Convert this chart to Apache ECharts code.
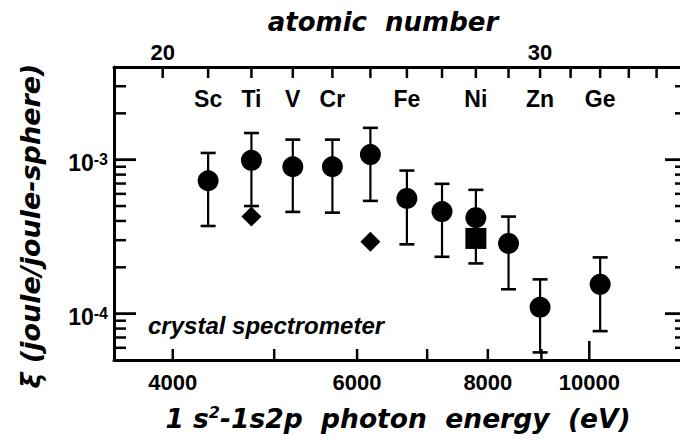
<!DOCTYPE html>
<html><head><meta charset="utf-8">
<script src="https://cdn.jsdelivr.net/npm/echarts@6/dist/echarts.min.js"></script>
<style>html,body{margin:0;padding:0;background:#fff}#chart{width:680px;height:443px}</style>
</head><body><div id="chart"></div>
<script>
// ---- data ----
const elementNames = ['Sc', 'Ti', 'V', 'Cr', 'Fe', 'Ni', 'Zn', 'Ge'];
const elementZ = [21, 22, 23, 24, 26, 28, 30, 32];
const pointZ = [21, 22, 23, 24, 25, 26, 27, 28, 29, 30, 32];
const pointValue = [7.3e-4, 9.9e-4, 9.0e-4, 9.0e-4, 1.08e-3, 5.6e-4, 4.6e-4, 4.2e-4, 2.86e-4, 1.10e-4, 1.55e-4];
const errLow = [3.71e-4, 5.0e-4, 4.58e-4, 4.53e-4, 5.4e-4, 2.82e-4, 2.34e-4, 2.12e-4, 1.44e-4, 5.6e-5, 7.7e-5];
const errHigh = [1.106e-3, 1.49e-3, 1.35e-3, 1.35e-3, 1.61e-3, 8.5e-4, 6.97e-4, 6.37e-4, 4.27e-4, 1.67e-4, 2.32e-4];
const diamondZ = [22, 25];
const diamondValue = [4.27e-4, 2.93e-4];
const squareZ = [28];
const squareValue = [3.08e-4];
const energyTicks = [4000, 5000, 6000, 7000, 8000, 9000, 10000];
const energyLabels = [4000, 6000, 8000, 10000];
const zTicks = [20, 21, 22, 23, 24, 25, 26, 27, 28, 29, 30, 31, 32, 33, 34];
const zLabels = [20, 30];
const yMajorTicks = [1e-4, 1e-3];
const yMajorExp = ['-4', '-3'];
const yMinorTicks = [6e-5, 7e-5, 8e-5, 9e-5, 2e-4, 3e-4, 4e-4, 5e-4, 6e-4, 7e-4, 8e-4, 9e-4, 2e-3, 3e-3];

// ---- axis ranges ----
const E_MIN = 3515, E_MAX = 12398;
const Z_MIN = 18.98, Z_MAX = 35.13;
const Y_MIN = 5e-5, Y_MAX = 4e-3;

const SANS = '"Liberation Sans", Arial, sans-serif';
const TITLE = '"DejaVu Sans", sans-serif';
const BLACK = '#000';

const chart = echarts.init(document.getElementById('chart'), null, {renderer: 'svg'});

function hiddenAxis(extra) {
  return Object.assign({
    type: 'log', logBase: 10,
    axisTick: {show: false}, axisLabel: {show: false}, splitLine: {show: false},
    minorTick: {show: false}, minorSplitLine: {show: false}
  }, extra);
}
const frameLine = {show: true, onZero: false, lineStyle: {color: BLACK, width: 3}};

const isDecade = v => Math.abs(Math.log10(v) - Math.round(Math.log10(v))) < 1e-9;
const markStyle = {color: BLACK, opacity: 1};

const series = [
  // error bars
  {
    type: 'custom', xAxisIndex: 1, yAxisIndex: 0, silent: true, z: 3,
    data: pointZ.map((z, i) => [z, errLow[i], errHigh[i]]),
    encode: {x: 0, y: [1, 2]},
    renderItem(params, api) {
      const lo = api.coord([api.value(0), api.value(1)]);
      const hi = api.coord([api.value(0), api.value(2)]);
      const c = 7.5;
      return {type: 'group', children: [
        {type: 'line', shape: {x1: lo[0], y1: lo[1], x2: hi[0], y2: hi[1]}, style: {stroke: BLACK, lineWidth: 2.2}},
        {type: 'line', shape: {x1: lo[0] - c, y1: lo[1], x2: lo[0] + c, y2: lo[1]}, style: {stroke: BLACK, lineWidth: 2.6}},
        {type: 'line', shape: {x1: hi[0] - c, y1: hi[1], x2: hi[0] + c, y2: hi[1]}, style: {stroke: BLACK, lineWidth: 2.6}}
      ]};
    }
  },
  {
    type: 'scatter', xAxisIndex: 1, yAxisIndex: 0, z: 4, silent: true,
    symbol: 'circle', symbolSize: 21, itemStyle: markStyle,
    data: pointZ.map((z, i) => [z, pointValue[i]])
  },
  {
    type: 'scatter', xAxisIndex: 1, yAxisIndex: 0, z: 4, silent: true,
    symbol: 'diamond', symbolSize: 20, itemStyle: markStyle,
    data: diamondZ.map((z, i) => [z, diamondValue[i]])
  },
  {
    type: 'scatter', xAxisIndex: 1, yAxisIndex: 0, z: 4, silent: true,
    symbol: 'rect', symbolSize: 21, itemStyle: markStyle,
    data: squareZ.map((z, i) => [z, squareValue[i]])
  },
  // element labels
  {
    type: 'custom', xAxisIndex: 1, yAxisIndex: 0, silent: true, z: 5,
    data: elementZ.map(z => [z, Y_MIN]),
    encode: {x: 0, y: 1},
    renderItem(params, api) {
      const x = api.coord([api.value(0), Y_MIN])[0];
      return {type: 'text', x: x, y: params.coordSys.y + 32,
        style: {text: elementNames[params.dataIndex], font: 'bold 23px ' + SANS, fill: BLACK, align: 'center', verticalAlign: 'middle'}};
    }
  },
  // bottom energy ticks + labels
  {
    type: 'custom', xAxisIndex: 0, yAxisIndex: 0, silent: true, z: 5,
    data: energyTicks.map(v => [v, Y_MIN]),
    encode: {x: 0, y: 1},
    renderItem(params, api) {
      const cs = params.coordSys;
      const v = api.value(0);
      const x = api.coord([v, Y_MIN])[0];
      const b = cs.y + cs.height;
      const len = isDecade(v) ? 19 : 11;
      const ch = [{type: 'line', shape: {x1: x, y1: b, x2: x, y2: b - len}, style: {stroke: BLACK, lineWidth: 2.5}}];
      if (energyLabels.indexOf(v) >= 0) {
        ch.push({type: 'text', x: x, y: b + 22,
          style: {text: String(v), font: 'bold 22px ' + SANS, fill: BLACK, align: 'center', verticalAlign: 'middle'}});
      }
      return {type: 'group', children: ch};
    }
  },
  // top Z ticks + labels
  {
    type: 'custom', xAxisIndex: 1, yAxisIndex: 0, silent: true, z: 5,
    data: zTicks.map(v => [v, Y_MIN]),
    encode: {x: 0, y: 1},
    renderItem(params, api) {
      const cs = params.coordSys;
      const v = api.value(0);
      const x = api.coord([v, Y_MIN])[0];
      const t = cs.y;
      const ch = [{type: 'line', shape: {x1: x, y1: t, x2: x, y2: t + 11}, style: {stroke: BLACK, lineWidth: 2.5}}];
      if (zLabels.indexOf(v) >= 0) {
        ch.push({type: 'text', x: x, y: t - 15,
          style: {text: String(v), font: 'bold 22px ' + SANS, fill: BLACK, align: 'center', verticalAlign: 'middle'}});
      }
      return {type: 'group', children: ch};
    }
  },
  // y major ticks (both sides) + labels
  {
    type: 'custom', xAxisIndex: 0, yAxisIndex: 0, silent: true, z: 5,
    data: yMajorTicks.map(v => [E_MIN, v]),
    encode: {x: 0, y: 1},
    renderItem(params, api) {
      const cs = params.coordSys;
      const y = api.coord([E_MIN, api.value(1)])[1];
      const l = cs.x, r = cs.x + cs.width;
      return {type: 'group', children: [
        {type: 'line', shape: {x1: l, y1: y, x2: l + 22, y2: y}, style: {stroke: BLACK, lineWidth: 2.8}},
        {type: 'line', shape: {x1: r, y1: y, x2: r - 22, y2: y}, style: {stroke: BLACK, lineWidth: 2.8}},
        {type: 'text', x: l - 6, y: y + 3, style: {
          text: '10{sup|' + yMajorExp[params.dataIndex] + '}',
          font: 'bold 23px ' + SANS, fill: BLACK, align: 'right', verticalAlign: 'middle',
          rich: {sup: {fontSize: 16, fontWeight: 'bold', fontFamily: SANS, verticalAlign: 'top', fill: BLACK}}
        }}
      ]};
    }
  },
  // y minor ticks (both sides)
  {
    type: 'custom', xAxisIndex: 0, yAxisIndex: 0, silent: true, z: 5,
    data: yMinorTicks.map(v => [E_MIN, v]),
    encode: {x: 0, y: 1},
    renderItem(params, api) {
      const cs = params.coordSys;
      const y = api.coord([E_MIN, api.value(1)])[1];
      const l = cs.x, r = cs.x + cs.width;
      return {type: 'group', children: [
        {type: 'line', shape: {x1: l, y1: y, x2: l + 12, y2: y}, style: {stroke: BLACK, lineWidth: 2.5}},
        {type: 'line', shape: {x1: r, y1: y, x2: r - 12, y2: y}, style: {stroke: BLACK, lineWidth: 2.5}}
      ]};
    }
  }
];

chart.setOption({
  animation: false,
  backgroundColor: '#fff',
  textStyle: {fontFamily: SANS},
  grid: {left: 114, top: 67, width: 573, height: 293, outerBoundsMode: 'none', containLabel: false},
  xAxis: [
    hiddenAxis({min: E_MIN, max: E_MAX, position: 'bottom', axisLine: frameLine}),
    hiddenAxis({min: Z_MIN, max: Z_MAX, position: 'top', axisLine: frameLine})
  ],
  yAxis: [
    hiddenAxis({min: Y_MIN, max: Y_MAX, position: 'left', axisLine: frameLine})
  ],
  graphic: [
    {type: 'text', x: 383, y: 22, silent: true, style: {
      text: 'atomic  number', font: 'italic bold 26px ' + TITLE, fill: BLACK, align: 'center', verticalAlign: 'middle'}},
    {type: 'text', x: 398, y: 418, silent: true, style: {
      text: '1 s{sup|2}-1s2p  photon  energy  (eV)', font: 'italic bold 26.5px ' + TITLE, fill: BLACK,
      align: 'center', verticalAlign: 'middle',
      rich: {sup: {fontSize: 16, fontWeight: 'bold', fontStyle: 'italic', fontFamily: TITLE, verticalAlign: 'top', fill: BLACK}}}},
    {type: 'text', x: 30, y: 226, rotation: Math.PI / 2, silent: true, style: {
      text: 'ξ (joule/joule-sphere)', font: 'italic bold 27px ' + TITLE, fill: BLACK, align: 'center', verticalAlign: 'middle'}},
    {type: 'text', x: 148, y: 325, silent: true, style: {
      text: 'crystal spectrometer', font: 'italic bold 24px ' + SANS, fill: BLACK, align: 'left', verticalAlign: 'middle'}}
  ],
  series: series
});
</script>
</body></html>
